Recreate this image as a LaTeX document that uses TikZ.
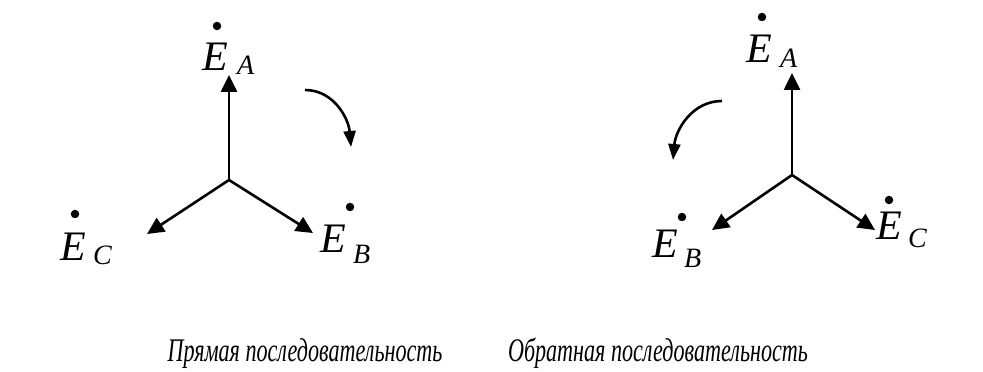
\documentclass[tikz,border=0pt]{standalone}
\usepackage{fontspec}
\setmainfont{Liberation Serif}
\usetikzlibrary{arrows.meta,positioning}

\begin{document}
\begin{tikzpicture}[
  x=1pt,y=1pt,
  vec/.style={-{Triangle[length=17pt,width=16pt]},line width=2.6pt},
  turn/.style={-{Triangle[length=16pt,width=12pt]},line width=2.6pt},
  lbl/.style={inner sep=0pt,anchor=base west,font=\fontsize{42}{46}\selectfont\itshape},
  subs/.style={inner sep=0pt,anchor=base west,font=\fontsize{28}{31}\selectfont\itshape},
  dotmark/.style={circle,fill,inner sep=0pt,minimum size=8.5pt},
  caption/.style={inner sep=0pt,anchor=base,font=\fontsize{33}{36}\selectfont\itshape}
]
\useasboundingbox (0,0) rectangle (983,372);

% direct sequence
\coordinate (Ol) at (229,192);
\coordinate (Al) at (229,297);
\coordinate (Bl) at (313,139);
\coordinate (Cl) at (147,138);
\draw[vec] (Ol) -- (Al);
\draw[vec] (Ol) -- (Bl);
\draw[vec] (Ol) -- (Cl);

\node[lbl]     (EAl)    at (202,301) {E};
\node[subs]    (EAlsub) at (237,297) {A};
\node[dotmark] (EAldot) at (217,346) {};
\node[lbl]     (EBl)    at (320,119) {E};
\node[subs]    (EBlsub) at (353,108) {B};
\node[dotmark] (EBldot) at (350,165) {};
\node[lbl]     (ECl)    at (60,111)  {E};
\node[subs]    (EClsub) at (93,107)  {C};
\node[dotmark] (ECldot) at (75,158)  {};

\coordinate (Tls) at (305,282);
\coordinate (Tle) at (351,225);
\draw[turn] (Tls) to[out=0,in=95] (Tle);

% inverse sequence
\coordinate (Or) at (792,197);
\coordinate (Ar) at (792,299);
\coordinate (Br) at (712,142);
\coordinate (Cr) at (875,142);
\draw[vec] (Or) -- (Ar);
\draw[vec] (Or) -- (Br);
\draw[vec] (Or) -- (Cr);

\node[lbl]     (EAr)    at (746,309) {E};
\node[subs]    (EArsub) at (780,304) {A};
\node[dotmark] (EArdot) at (762,355) {};
\node[lbl]     (EBr)    at (652,114) {E};
\node[subs]    (EBrsub) at (684,104) {B};
\node[dotmark] (EBrdot) at (682,155) {};
\node[lbl]     (ECr)    at (876,132) {E};
\node[subs]    (ECrsub) at (908,124) {C};
\node[dotmark] (ECrdot) at (889,172) {};

\coordinate (Trs) at (722,271);
\coordinate (Tre) at (673,212);
\draw[turn] (Trs) to[out=180,in=85] (Tre);

\node[caption] (capl) at (305,10) {\scalebox{0.67}[1]{Прямая последовательность}};
\node[caption] (capr) at (658,10) {\scalebox{0.67}[1]{Обратная последовательность}};
\end{tikzpicture}
\end{document}
